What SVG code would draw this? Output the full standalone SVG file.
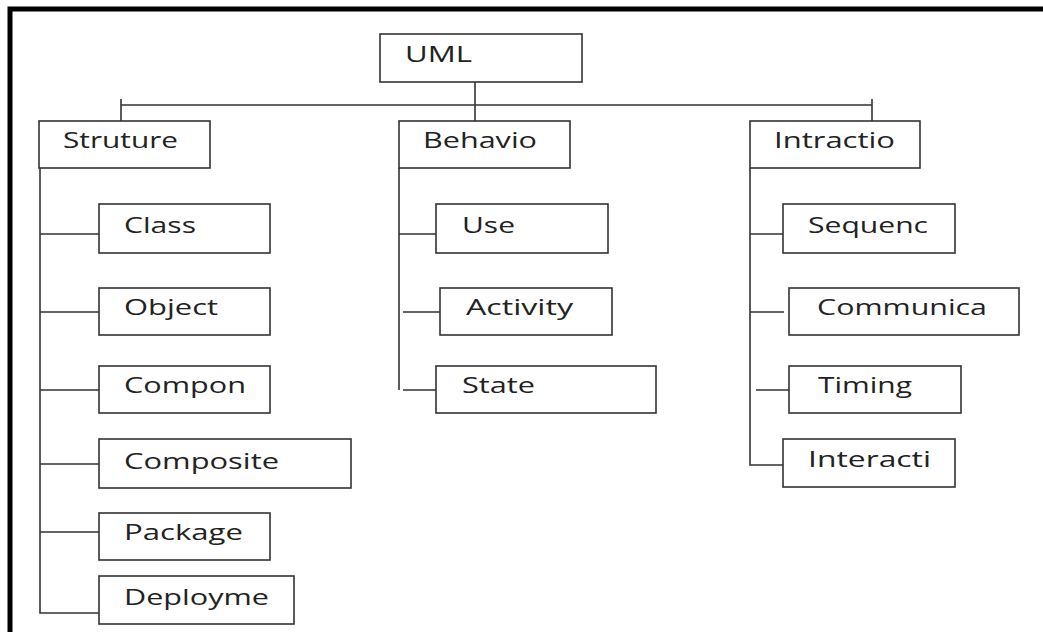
<svg xmlns="http://www.w3.org/2000/svg" width="1043" height="632" viewBox="0 0 1043 632">
<style>
.box{fill:#fff;stroke:#333;stroke-width:1.6}
.lbl{font-family:"Open Sans","Liberation Sans",sans-serif;font-size:21px;fill:#222;lengthAdjust:spacingAndGlyphs}
.con{fill:none;stroke:#333;stroke-width:1.6}
</style>
<rect width="1043" height="632" fill="#fff"/>
<path d="M10,632 V9 H1043" fill="none" stroke="#000" stroke-width="5"/>
<g id="connectors">
<path class="con" d="M475,82 V121"/>
<path class="con" d="M121,99 V121 M121,105 H872 M872,99 V121"/>
<path class="con" d="M40,168 V613 H99 M40,234 H99 M40,312 H99 M40,390 H99 M40,464 H99 M40,532 H99"/>
<path class="con" d="M399,168 V390 M399,234 H436 M403,312 H440 M403,390 H436"/>
<path class="con" d="M750,168 V465 H783 M750,234 H783 M750,312 H784 M756,390 H789"/>
</g>
<g id="uml"><rect class="box" x="380" y="34" width="202" height="48"/><text class="lbl" x="405" y="62" textLength="67" lengthAdjust="spacingAndGlyphs">UML</text></g>
<g id="structure"><rect class="box" x="39" y="121" width="171" height="47"/><text class="lbl" x="63" y="148" textLength="115" lengthAdjust="spacingAndGlyphs">Struture</text></g>
<g id="behavior"><rect class="box" x="399" y="121" width="171" height="47"/><text class="lbl" x="423" y="148" textLength="114" lengthAdjust="spacingAndGlyphs">Behavio</text></g>
<g id="interaction"><rect class="box" x="750" y="121" width="170" height="47"/><text class="lbl" x="774" y="148" textLength="121" lengthAdjust="spacingAndGlyphs">Intractio</text></g>
<g id="class"><rect class="box" x="99" y="204" width="171" height="49"/><text class="lbl" x="124" y="233" textLength="72" lengthAdjust="spacingAndGlyphs">Class</text></g>
<g id="object"><rect class="box" x="99" y="288" width="171" height="47"/><text class="lbl" x="124" y="315" textLength="94" lengthAdjust="spacingAndGlyphs">Object</text></g>
<g id="component"><rect class="box" x="99" y="366" width="171" height="47"/><text class="lbl" x="124" y="393" textLength="122" lengthAdjust="spacingAndGlyphs">Compon</text></g>
<g id="composite"><rect class="box" x="99" y="439" width="252" height="49"/><text class="lbl" x="124" y="469" textLength="155" lengthAdjust="spacingAndGlyphs">Composite</text></g>
<g id="package"><rect class="box" x="99" y="513" width="171" height="47"/><text class="lbl" x="124" y="540" textLength="119" lengthAdjust="spacingAndGlyphs">Package</text></g>
<g id="deployment"><rect class="box" x="99" y="576" width="195" height="48"/><text class="lbl" x="124" y="605" textLength="145" lengthAdjust="spacingAndGlyphs">Deployme</text></g>
<g id="use"><rect class="box" x="436" y="204" width="172" height="49"/><text class="lbl" x="462" y="233" textLength="53" lengthAdjust="spacingAndGlyphs">Use</text></g>
<g id="activity"><rect class="box" x="440" y="288" width="172" height="47"/><text class="lbl" x="466" y="315" textLength="107" lengthAdjust="spacingAndGlyphs">Activity</text></g>
<g id="state"><rect class="box" x="436" y="366" width="220" height="47"/><text class="lbl" x="462" y="393" textLength="73" lengthAdjust="spacingAndGlyphs">State</text></g>
<g id="sequence"><rect class="box" x="783" y="204" width="172" height="49"/><text class="lbl" x="808" y="233" textLength="120" lengthAdjust="spacingAndGlyphs">Sequenc</text></g>
<g id="communication"><rect class="box" x="789" y="288" width="230" height="47"/><text class="lbl" x="817" y="315" textLength="170" lengthAdjust="spacingAndGlyphs">Communica</text></g>
<g id="timing"><rect class="box" x="789" y="366" width="172" height="47"/><text class="lbl" x="818" y="393" textLength="94" lengthAdjust="spacingAndGlyphs">Timing</text></g>
<g id="interactionoverview"><rect class="box" x="783" y="439" width="172" height="48"/><text class="lbl" x="808" y="467" textLength="123" lengthAdjust="spacingAndGlyphs">Interacti</text></g>
</svg>
